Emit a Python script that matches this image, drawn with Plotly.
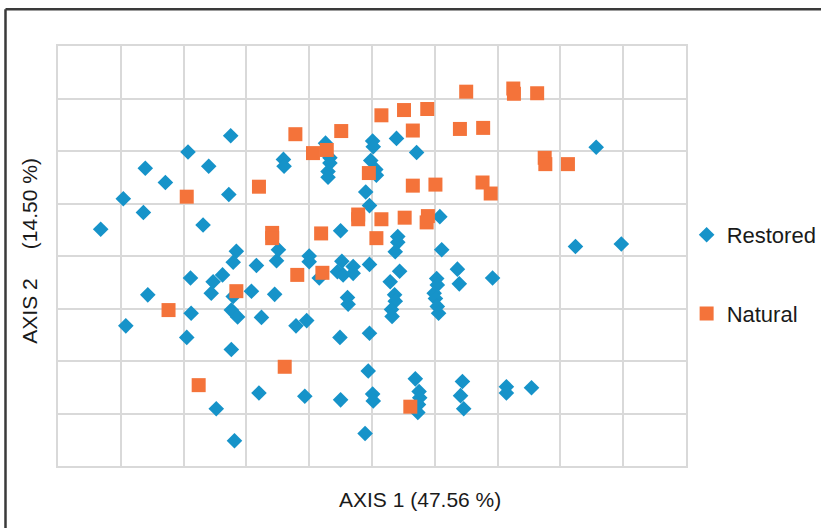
import plotly.graph_objects as go

# Restored (PCoA scores, grid units)
restored_x = [0.68, 1.04, 1.36, 1.39, 1.71, 2.07, 2.40, 2.31, 2.75, 2.72,
              1.08, 1.43, 2.11, 2.12, 2.05, 2.44, 2.47, 2.62, 2.79, 2.76,
              2.86, 2.84, 2.79, 2.76, 2.52, 2.81, 3.08, 3.16, 3.24, 3.20,
              3.45, 3.48, 3.51, 3.59, 3.60, 3.79, 3.93, 3.96, 4.00, 4.00,
              4.16, 4.26, 4.33, 4.33, 4.30, 4.30, 4.50, 4.49, 4.52, 4.50,
              4.45, 4.54, 4.70, 4.70, 4.61, 4.62, 4.89, 4.94, 4.96, 5.01,
              5.02, 5.01, 5.02, 4.98, 5.06, 5.07, 4.90, 4.96, 4.96, 5.44,
              5.29, 5.36, 5.37, 5.31, 5.32, 5.41, 5.41, 5.37, 5.39, 5.71,
              5.69, 5.75, 5.76, 5.74, 5.73, 6.03, 6.04, 5.99, 6.01, 6.04,
              6.06, 6.08, 6.11, 6.36, 6.39, 6.44, 6.41, 6.46, 6.92, 7.14,
              7.14, 7.54, 8.24, 8.57, 8.97]
restored_y = [4.51, 5.09, 4.83, 5.67, 5.40, 5.98, 5.71, 4.59, 6.29, 5.17,
              2.67, 3.26, 3.58, 2.91, 2.45, 3.29, 3.51, 3.64, 3.23, 2.97,
              2.84, 4.09, 3.88, 2.22, 1.09, 0.48, 3.33, 3.82, 2.83, 1.39,
              3.27, 3.91, 4.12, 5.84, 5.71, 2.67, 1.33, 2.77, 4.00, 3.89,
              3.58, 6.15, 5.87, 5.77, 5.61, 5.50, 4.48, 2.45, 3.90, 1.26,
              3.70, 3.64, 3.80, 3.67, 3.21, 3.08, 0.62, 1.81, 2.53, 1.37,
              1.24, 6.19, 6.08, 5.82, 5.65, 5.54, 5.22, 4.96, 3.84, 3.71,
              3.51, 3.26, 3.14, 2.98, 2.85, 4.37, 4.26, 4.08, 6.24, 5.97,
              1.66, 1.42, 1.30, 1.17, 1.02, 3.57, 3.45, 3.29, 3.19, 3.04,
              2.91, 4.75, 4.12, 3.75, 3.47, 1.61, 1.34, 1.09, 3.58, 1.51,
              1.39, 1.49, 4.18, 6.07, 4.23]

# Natural
natural_x = [2.05, 1.76, 2.24, 2.84, 3.20, 3.41, 3.41, 3.61, 3.78, 3.81,
             4.06, 4.19, 4.21, 4.28, 4.51, 4.78, 4.78, 4.95, 5.07, 5.15,
             5.15, 5.51, 5.65, 5.88, 5.65, 5.52, 5.89, 5.87, 6.01, 5.61,
             6.50, 6.40, 6.77, 6.76, 6.89, 7.25, 7.26, 7.63, 7.75, 7.76,
             8.12]
natural_y = [5.13, 2.97, 1.54, 3.33, 5.32, 4.44, 4.34, 1.89, 6.32, 3.64,
             5.96, 4.43, 3.68, 6.02, 6.38, 4.79, 4.70, 5.58, 4.34, 6.68,
             4.70, 6.78, 6.39, 6.80, 5.34, 4.73, 4.76, 4.64, 5.36, 1.13,
             7.13, 6.42, 6.44, 5.40, 5.19, 7.19, 7.09, 7.10, 5.87, 5.75,
             5.75]

x_title = "AXIS 1 (47.56 %)"
y_title = "AXIS 2" + "\u00a0" * 5 + "(14.50 %)"
series_names = ["Restored", "Natural"]

FONT = "Liberation Sans, Arial, sans-serif"
BLUE = "#1693c9"
ORANGE = "#f4733a"

fig = go.Figure()
fig.add_trace(go.Scatter(
    x=restored_x, y=restored_y, mode="markers", name=series_names[0],
    legendgroup="a",
    marker=dict(symbol="diamond", size=12, color=BLUE, line=dict(width=0)),
))
fig.add_trace(go.Scatter(
    x=natural_x, y=natural_y, mode="markers", name=series_names[1],
    legendgroup="b",
    marker=dict(symbol="square", size=14, color=ORANGE, line=dict(width=0)),
))

axis_common = dict(
    showticklabels=False, ticks="", zeroline=False,
    showgrid=True, gridcolor="#d9d9d9", gridwidth=1.5,
    showline=True, linecolor="#d9d9d9", linewidth=1.5, mirror=True,
    dtick=1, tick0=0,
)

fig.update_layout(
    width=821, height=528,
    margin=dict(l=58, r=135, t=46, b=62, autoexpand=False),
    paper_bgcolor="white", plot_bgcolor="white",
    font=dict(family=FONT, size=21, color="#1a1a1a"),
    xaxis=dict(range=[0, 10], **axis_common),
    yaxis=dict(range=[0, 8], **axis_common),
    showlegend=True,
    legend=dict(x=1.001, y=0.456, xanchor="left", yanchor="middle",
                font=dict(family=FONT, size=22, color="#1a1a1a"),
                tracegroupgap=47, bgcolor="rgba(0,0,0,0)"),
    annotations=[
        dict(text=x_title, xref="paper", yref="paper", x=0.576, y=-0.0786,
             xanchor="center", yanchor="middle", showarrow=False,
             font=dict(family=FONT, size=21, color="#1a1a1a")),
        dict(text=y_title, xref="paper", yref="paper", x=-0.045, y=0.512,
             xanchor="center", yanchor="middle", showarrow=False, textangle=-90,
             font=dict(family=FONT, size=21, color="#1a1a1a")),
    ],
    shapes=[
        dict(type="line", xref="paper", yref="paper",
             x0=-0.0836, x1=1.3, y0=1.0877, y1=1.0877,
             line=dict(color="#3a3a3a", width=2.5)),
        dict(type="line", xref="paper", yref="paper",
             x0=-0.0836, x1=-0.0836, y0=1.0877, y1=-0.2,
             line=dict(color="#3a3a3a", width=2.5)),
    ],
)

fig.write_html("out.html")
